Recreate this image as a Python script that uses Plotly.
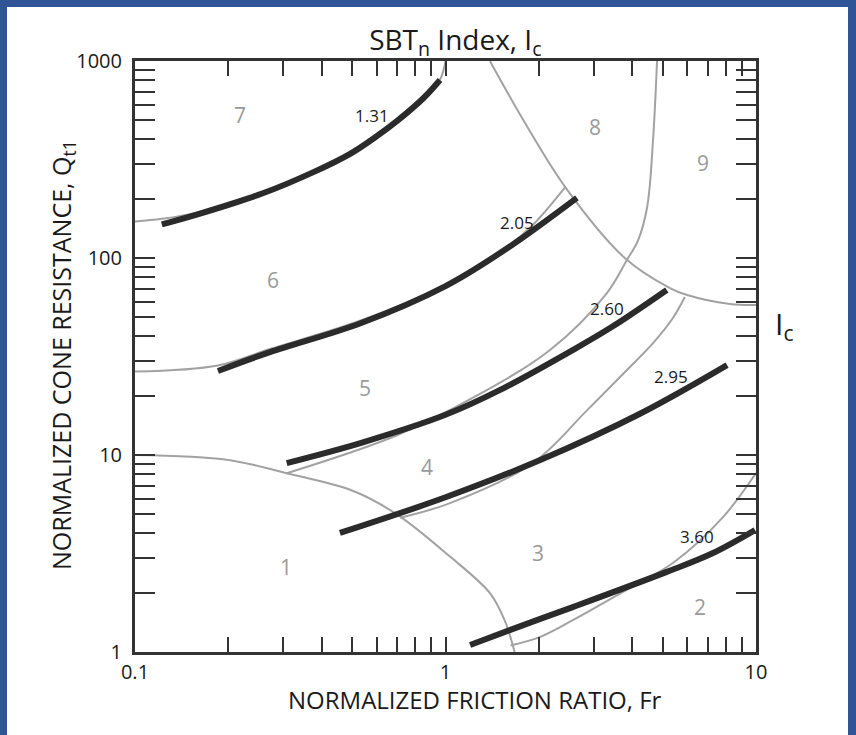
"""SBTn chart (Robertson) with Ic contours, normalized Fr vs Qt1."""

import math

import plotly.graph_objects as go

# ---- Ic contour lines (thick black) ----
fr_ic131 = [0.122, 0.158, 0.258, 0.374, 0.493, 0.6, 0.697, 0.85, 0.96]
qt_ic131 = [148, 166, 213, 272, 338, 415, 495, 649, 801]

fr_ic205 = [0.185, 0.272, 0.53, 1.0, 1.58, 2.65]
qt_ic205 = [26.7, 33.3, 46.5, 72, 112, 202]

fr_ic260 = [0.308, 0.542, 1.0, 1.5, 2.57, 3.46, 5.16]
qt_ic260 = [9.1, 11.6, 16.0, 21.4, 34.1, 45, 68.8]

fr_ic295 = [0.457, 1.0, 2.01, 4.23, 8.07]
qt_ic295 = [4.02, 6.1, 9.4, 16.2, 28.6]

fr_ic360 = [1.20, 1.78, 2.57, 5.16, 7.27, 9.93]
qt_ic360 = [1.085, 1.37, 1.69, 2.55, 3.18, 4.16]

# ---- zone boundaries (thin grey) ----
fr_z67 = [0.1, 0.122, 0.158, 0.258, 0.374, 0.493, 0.6, 0.697, 0.85, 0.96, 1.0]
qt_z67 = [153, 158, 170, 216, 275, 342, 419, 499, 654, 806, 1000]

fr_z56 = [0.1, 0.185, 0.272, 0.53, 1.0, 1.58, 1.91, 2.43]
qt_z56 = [26.5, 28.5, 34.5, 48, 73, 114, 147, 229]

fr_z45 = [0.308, 0.698, 1.26, 2.17, 3.31, 3.84, 4.17, 4.46, 4.66, 4.80]
qt_z45 = [8.08, 12.6, 20.0, 34.1, 66.4, 97.8, 123, 181, 397, 1000]

fr_z8 = [1.39, 1.78, 2.43, 3.78, 5.28, 6.0, 8.24, 10]
qt_z8 = [1000, 502, 229, 100, 70.4, 64.9, 58.4, 57.7]

fr_z34 = [0.714, 1.034, 1.91, 2.86, 3.84, 4.66, 5.40, 5.90]
qt_z34 = [4.8, 5.7, 9.1, 16.9, 27.0, 37.0, 49.6, 63.4]

fr_z1 = [0.1, 0.2, 0.308, 0.5, 0.697, 1.034, 1.39, 1.55, 1.67]
qt_z1 = [10, 9.44, 8.08, 6.6, 5.0, 3.05, 1.99, 1.45, 1.0]

fr_z2 = [1.62, 2.01, 2.57, 4.0, 5.40, 7.83, 10]
qt_z2 = [1.08, 1.19, 1.45, 2.15, 2.83, 4.84, 8.1]

ic_lines = [
    (fr_ic131, qt_ic131), (fr_ic205, qt_ic205), (fr_ic260, qt_ic260),
    (fr_ic295, qt_ic295), (fr_ic360, qt_ic360),
]
zone_lines = [
    (fr_z67, qt_z67), (fr_z56, qt_z56), (fr_z45, qt_z45), (fr_z8, qt_z8),
    (fr_z34, qt_z34), (fr_z1, qt_z1), (fr_z2, qt_z2),
]

# labels: (text, Fr, Qt1)
zone_labels = [("7", 0.218, 532), ("8", 3.03, 462), ("9", 6.75, 304),
               ("6", 0.278, 77.3), ("5", 0.55, 21.9), ("4", 0.872, 8.7),
               ("3", 1.99, 3.18), ("1", 0.306, 2.70), ("2", 6.6, 1.69)]
ic_labels = [("1.31", 0.58, 532), ("2.05", 1.70, 152), ("2.60", 3.31, 55.1),
             ("2.95", 5.32, 24.9), ("3.60", 6.46, 3.88)]

x_ticks = [0.1, 0.2, 0.3, 0.4, 0.5, 0.6, 0.7, 0.8, 0.9,
           1, 2, 3, 4, 5, 6, 7, 8, 9, 10]
y_ticks = [1, 2, 3, 4, 5, 6, 7, 8, 9, 10, 20, 30, 40, 50, 60, 70, 80, 90,
           100, 200, 300, 400, 500, 600, 700, 800, 900, 1000]
decades = {0.1: "0.1", 1: "1", 10: "10", 100: "100", 1000: "1000"}

FONT = "Open Sans"
GREY = "#a2a2a2"
BLACK = "#2b2b2b"
BLUE = "#2f5597"
INK = "#1a1a1a"

fig = go.Figure()

for fr, qt in zone_lines:
    fig.add_trace(go.Scatter(x=fr, y=qt, mode="lines",
                             line=dict(color=GREY, width=2, shape="spline"),
                             hoverinfo="skip", showlegend=False))

for fr, qt in ic_lines:
    fig.add_trace(go.Scatter(x=fr, y=qt, mode="lines",
                             line=dict(color=BLACK, width=6, shape="spline"),
                             hoverinfo="skip", showlegend=False))

# annotations on log axes take log10 positions
annotations = []
for txt, fx, qy in zone_labels:
    annotations.append(dict(x=math.log10(fx), y=math.log10(qy), xref="x", yref="y",
                            text=txt, showarrow=False, xanchor="center", yanchor="middle",
                            font=dict(family=FONT, size=21, color="#9a9a9a")))
for txt, fx, qy in ic_labels:
    annotations.append(dict(x=math.log10(fx), y=math.log10(qy), xref="x", yref="y",
                            text=txt, showarrow=False, xanchor="center", yanchor="middle",
                            font=dict(family=FONT, size=17, color=INK)))

# axis titles and the Ic tag on the right
annotations += [
    dict(text="NORMALIZED FRICTION RATIO, Fr", x=0.5475, y=-0.081, xref="paper",
         yref="paper", xanchor="center", yanchor="middle", showarrow=False,
         font=dict(family=FONT, size=24, color=INK)),
    dict(text="NORMALIZED CONE RESISTANCE, Q<sub>t1</sub>", x=-0.1176, y=0.5025,
         xref="paper", yref="paper", xanchor="center", yanchor="middle",
         textangle=-90, showarrow=False,
         font=dict(family=FONT, size=25, color=INK)),
    dict(text="I<sub>c</sub>", x=1.045, y=0.553, xref="paper", yref="paper",
         xanchor="center", yanchor="middle", showarrow=False,
         font=dict(family=FONT, size=30, color=INK)),
]

axis_common = dict(
    type="log", showgrid=False, zeroline=False,
    showline=True, linecolor="#333333", linewidth=3, mirror="ticks",
    ticks="inside", tickcolor="#333333", tickwidth=2,
    tickfont=dict(family=FONT, size=20, color=INK),
)

fig.update_layout(
    width=856, height=735,
    margin=dict(l=135, r=100, t=61, b=83),
    paper_bgcolor=BLUE,
    plot_bgcolor="white",
    title=dict(text="SBT<sub>n</sub> Index, I<sub>c</sub>", xref="container",
               x=0.532, y=1 - 40 / 735, xanchor="center", yanchor="middle",
               font=dict(family=FONT, size=28, color=INK)),
    xaxis=dict(axis_common, range=[-1, 1], tickvals=x_ticks, ticklen=15,
               ticktext=[decades.get(v, "") for v in x_ticks]),
    yaxis=dict(axis_common, range=[0, 3], tickvals=y_ticks, ticklen=20,
               ticklabelstandoff=6,
               ticktext=[decades.get(v, "") for v in y_ticks]),
    annotations=annotations,
    shapes=[dict(type="rect", xref="paper", yref="paper", layer="below",
                 x0=(7 - 135) / 621, x1=(848 - 135) / 621,
                 y0=(652 - 735) / 591, y1=(652 - 7) / 591,
                 fillcolor="white", line=dict(width=0))],
)

fig.write_html("out.html", config={"displayModeBar": False},
               post_script="document.body.style.margin='0';")
